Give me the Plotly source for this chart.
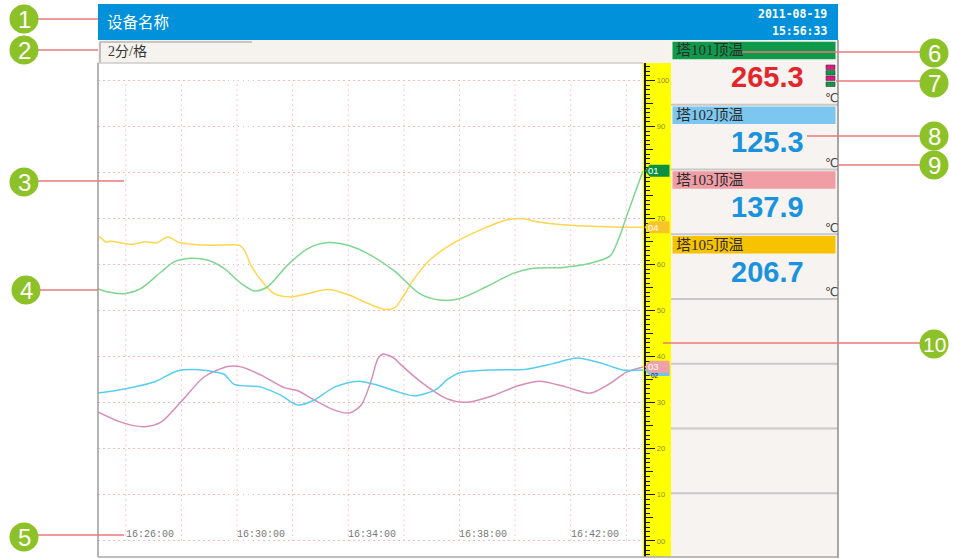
import plotly.graph_objects as go

W, H = 953, 559
DAY = "2011-08-19 "

# ---- recorder channels -------------------------------------------------
ch_tags = ["01", "02", "03", "04"]
ch_names = ["塔101顶温", "塔102顶温", "塔103顶温", "塔105顶温"]
ch_readings = [265.3, 125.3, 137.9, 206.7]
ch_unit = "℃"

# trend samples (value on the 0-100 scale)
green_t = ["16:25:00", "16:25:20", "16:25:56", "16:26:32", "16:27:16", "16:27:44", "16:28:20",
           "16:28:56", "16:29:32", "16:30:09", "16:30:37", "16:31:06", "16:31:49", "16:32:33",
           "16:33:16", "16:33:59", "16:34:42", "16:35:40", "16:36:34", "16:37:17", "16:38:00",
           "16:38:58", "16:39:56", "16:40:39", "16:41:44", "16:42:42", "16:43:25", "16:43:43",
           "16:44:04", "16:44:36"]
green_v = [54.8, 54.1, 53.7, 54.8, 58.4, 60.6, 61.4, 61.0, 59.2, 55.9, 54.3, 55.2, 59.9, 63.5,
           64.8, 64.2, 62.4, 58.6, 53.7, 52.3, 52.6, 55.2, 58.1, 59.2, 59.4, 60.3, 61.9, 65.5,
           71.5, 80.4]

blue_t = ["16:25:00", "16:26:03", "16:27:01", "16:27:51", "16:28:28", "16:29:11", "16:29:32",
          "16:29:54", "16:30:52", "16:31:35", "16:32:11", "16:32:47", "16:33:30", "16:34:21",
          "16:35:04", "16:35:40", "16:36:23", "16:37:10", "16:37:32", "16:38:01", "16:39:05",
          "16:40:25", "16:41:22", "16:42:13", "16:43:03", "16:43:54", "16:44:36"]
blue_v = [32.1, 33.1, 34.5, 36.9, 37.2, 36.7, 36.2, 34.0, 33.4, 31.6, 29.5, 30.6, 33.4, 34.7,
          33.8, 32.6, 31.5, 32.9, 34.9, 36.5, 37.1, 37.3, 38.5, 39.7, 38.7, 37.1, 37.1]

pink_t = ["16:25:00", "16:25:49", "16:26:39", "16:27:16", "16:27:59", "16:28:49", "16:29:40",
          "16:30:09", "16:30:52", "16:31:42", "16:32:11", "16:32:47", "16:33:30", "16:34:03",
          "16:34:28", "16:34:50", "16:35:04", "16:35:15", "16:35:40", "16:35:51", "16:36:41",
          "16:37:32", "16:38:15", "16:39:05", "16:40:10", "16:40:53", "16:41:51", "16:42:42",
          "16:43:25", "16:44:01", "16:44:36"]
pink_v = [28.0, 25.8, 24.8, 25.8, 30.2, 35.6, 37.9, 37.8, 36.0, 33.3, 32.6, 30.6, 28.4, 27.8,
          29.5, 35.0, 39.6, 40.6, 39.6, 38.5, 34.2, 30.9, 30.1, 31.3, 33.8, 34.7, 33.4, 32.1,
          34.2, 36.7, 37.8]

yellow_t = ["16:25:00", "16:25:04", "16:25:17", "16:25:27", "16:26:11", "16:26:43", "16:27:05",
            "16:27:31", "16:27:55", "16:28:28", "16:29:11", "16:30:06", "16:30:16", "16:30:30",
            "16:30:52", "16:31:20", "16:31:57", "16:32:32", "16:33:16", "16:33:59", "16:34:42",
            "16:35:18", "16:35:40", "16:35:58", "16:36:20", "16:36:56", "16:37:46", "16:38:44",
            "16:39:41", "16:40:17", "16:40:46", "16:41:51", "16:43:32", "16:44:36"]
yellow_v = [65.7, 66.0, 64.9, 65.1, 64.4, 65.0, 64.7, 66.0, 64.8, 64.4, 64.2, 64.2, 63.1, 59.9,
            56.6, 53.7, 53.0, 53.7, 54.6, 53.5, 51.6, 50.3, 50.6, 53.0, 56.6, 61.0, 64.6, 67.5,
            69.7, 70.0, 69.3, 68.6, 68.2, 68.1]

grid_times = ["16:26", "16:28", "16:30", "16:32", "16:34", "16:36", "16:38", "16:40", "16:42", "16:44"]
time_labels = ["16:26:00", "16:30:00", "16:34:00", "16:38:00", "16:42:00"]
scale_vals = [0, 10, 20, 30, 40, 50, 60, 70, 80, 90, 100]
scale_text = ["00", "10", "20", "30", "40", "50", "60", "70", "80", "90", "100"]
mid_vals = [5, 15, 25, 35, 45, 55, 65, 75, 85, 95]
x_window = ["16:25:00", "16:44:36"]
y_window = [-3.5, 103.8]

header_title = "设备名称"
header_date = "2011-08-19"
header_time = "15:56:33"
per_div = "2分/格"

# ---- styles -------------------------------------------------------------
line_colors = {"01": "#7FD690", "02": "#58CDF2", "03": "#D68DB7", "04": "#FFD650"}
tag_colors = {"01": "#0B8F43", "02": "#74C2EE", "03": "#F0A0A9", "04": "#F7C52A"}
tag_text = {"01": "white", "02": "#1a1a1a", "03": "white", "04": "white"}
bar_colors = ["#0E9A4A", "#7CC7F0", "#F09DA5", "#F7C300"]
reading_colors = ["#E2262B", "#1A93DE", "#1A93DE", "#1A93DE"]
GRID = "#F5B8BF"
GRID_DASH = "1.5px,3.5px"
LEAD = "#E9787B"
BADGE = "#8CC227"
SERIF_CJK = "Liberation Serif, Noto Sans CJK SC"

series = {"01": (green_t, green_v), "02": (blue_t, blue_v),
          "03": (pink_t, pink_v), "04": (yellow_t, yellow_v)}

fig = go.Figure()


def px(x):
    return x / W


def py(y):
    return 1 - y / H


def rect(x0, y0, x1, y1, fill, layer="below", line=None):
    fig.add_shape(type="rect", xref="paper", yref="paper", x0=px(x0), x1=px(x1),
                  y0=py(y1), y1=py(y0), fillcolor=fill, layer=layer,
                  line=line if line else dict(width=0))


def seg(x0, y0, x1, y1, color, width=1, layer="above"):
    fig.add_shape(type="line", xref="paper", yref="paper", x0=px(x0), x1=px(x1),
                  y0=py(y0), y1=py(y1), line=dict(color=color, width=width), layer=layer)


def text(x, y, s, size, color, family, xanchor="left", yanchor="middle"):
    fig.add_annotation(xref="paper", yref="paper", x=px(x), y=py(y), text=s, showarrow=False,
                       xanchor=xanchor, yanchor=yanchor,
                       font=dict(size=size, color=color, family=family))


# ---- trend lines ----------------------------------------------------------
for tag in ["04", "01", "03", "02"]:
    t, v = series[tag]
    fig.add_trace(go.Scatter(x=[DAY + s for s in t], y=v, mode="lines",
                             line=dict(color=line_colors[tag], width=1.5, shape="spline",
                                       smoothing=0.8),
                             hoverinfo="skip", showlegend=False))

# invisible anchors so the ruler axes are drawn
for ax in ["y2", "y3", "y4"]:
    fig.add_trace(go.Scatter(x=[DAY + x_window[0]], y=[50], yaxis=ax, mode="markers",
                             marker=dict(opacity=0), hoverinfo="skip", showlegend=False))

# ---- frame, header, panels --------------------------------------------------
rect(98, 4, 838, 40, "#0091DA")
rect(98, 40, 671, 63, "#F6F3EF")
rect(671, 40, 838, 558, "#F7F3F0")
rect(643, 63, 671, 557, "#FFFF00")
seg(100, 42, 252, 42, "#9a9a9a", 1.2)
seg(100, 42, 100, 62, "#9a9a9a", 1.2)
seg(98, 63, 643, 63, "#b4b4b4", 1)
seg(98, 63, 98, 557, "#9c9c9c", 1.5)
seg(98, 557, 838, 557, "#a8a8a8", 1.5)
seg(838, 40, 838, 558, "#8c8c8c", 1.5)
for i in range(1, 8):
    yy = 40 + i * 64.75
    seg(671, yy, 838, yy, "#C9C9C9", 2, layer="below")

text(105, 21, header_title, 15.5, "white", "Noto Sans CJK SC")
text(829, 14, "<b>%s</b>" % header_date, 11.5, "white", "DejaVu Sans Mono", xanchor="right")
text(829, 31, "<b>%s</b>" % header_time, 11.5, "white", "DejaVu Sans Mono", xanchor="right")
text(106, 52, per_div, 14, "#333333", SERIF_CJK)

# vertical grid (one division = 2 minutes)
for g in grid_times:
    fig.add_shape(type="line", xref="x", yref="y", x0=DAY + g + ":00", x1=DAY + g + ":00",
                  y0=scale_vals[0], y1=scale_vals[-1], layer="below",
                  line=dict(color=GRID, width=1, dash=GRID_DASH))

for lab in time_labels:
    fig.add_annotation(xref="x", yref="y", x=DAY + lab, y=scale_vals[0], text=lab,
                       showarrow=False, xanchor="left", yanchor="bottom", xshift=-2, yshift=-1,
                       font=dict(size=10, color="#777777", family="Liberation Mono"))

# channel panels
for i, (name, val) in enumerate(zip(ch_names, ch_readings)):
    top = 40 + i * 64.75
    rect(672.5, top + 1.8, 835.5, top + 19.2, bar_colors[i])
    text(674, top + 10.5, name, 15, "#2b2b2b", SERIF_CJK)
    text(767.5, top + 37.5, "<b>%.1f</b>" % val, 29, reading_colors[i], "Liberation Sans",
         xanchor="center")
    text(831, top + 58, ch_unit, 12, "#444444", "DejaVu Sans", xanchor="center")

# alarm lamps of channel 01
for (y0, y1, c) in [(65, 69.5, "#E0157F"), (70.5, 75, "#109848"),
                    (76, 80.5, "#E0157F"), (82, 86.5, "#109848")]:
    rect(826, y0, 835, y1, c, layer="above", line=dict(color="#3a3a3a", width=0.6))

# channel tags at the end of each trace on the ruler (02 sits beneath 03)
for tag in ["01", "04", "02", "03"]:
    v = series[tag][1][-1]
    h = 1.3
    path = (f"M {px(644.5)},{v} L {px(650)},{v + h} L {px(669.5)},{v + h} "
            f"L {px(669.5)},{v - h} L {px(650)},{v - h} Z")
    fig.add_shape(type="path", xref="paper", yref="y", path=path,
                  fillcolor=tag_colors[tag], line=dict(width=0), layer="above")
    low = tag == "02"
    fig.add_annotation(xref="paper", yref="y", x=px(660), y=v, text=tag, showarrow=False,
                       yshift=-5.5 if low else 0, borderpad=0,
                       font=dict(size=6.5 if low else 9.5, color=tag_text[tag],
                                 family="Liberation Sans"))

# numbered callouts
badges = [(24, 19, "1"), (24, 50, "2"), (24, 182, "3"), (26, 290, "4"), (24, 537, "5"),
          (934, 53, "6"), (934, 83, "7"), (934, 136, "8"), (934, 165, "9"), (934, 344, "10")]
leads = [(38, 19, 98, 19), (38, 50, 98, 50), (38, 181, 124, 181), (40, 290, 98, 290),
         (38, 535, 124, 535), (742, 52, 920, 52), (836, 81, 920, 81), (807, 136, 920, 136),
         (838, 165, 920, 165), (663, 343, 920, 343)]
for (x0, y0, x1, y1) in leads:
    seg(x0, y0, x1, y1, LEAD, 1.5)
r = 14.5
for (cx, cy, n) in badges:
    fig.add_shape(type="circle", xref="paper", yref="paper", x0=px(cx - r), x1=px(cx + r),
                  y0=py(cy + r), y1=py(cy - r), fillcolor=BADGE, line=dict(width=0),
                  layer="above")
    text(cx, cy + 0.5, n, 24 if len(n) == 1 else 21, "white", "Liberation Sans",
         xanchor="center")

# ---- axes -------------------------------------------------------------------
dom_y = [py(557), py(63)]
ruler_pos = px(644.5)
fig.update_layout(
    width=W, height=H, margin=dict(l=0, r=0, t=0, b=0),
    paper_bgcolor="white", plot_bgcolor="white", showlegend=False,
    xaxis=dict(domain=[px(98), px(643)], type="date",
               range=[DAY + x_window[0], DAY + x_window[1]],
               showgrid=False, showticklabels=False, zeroline=False, showline=False, ticks=""),
    yaxis=dict(domain=dom_y, range=y_window, tickmode="linear", tick0=0, dtick=10,
               showgrid=True, gridcolor=GRID, gridwidth=1, griddash=GRID_DASH,
               showticklabels=False, zeroline=False, showline=False, ticks=""),
    yaxis2=dict(overlaying="y", anchor="free", position=ruler_pos, side="right",
                range=y_window, tickmode="array", tickvals=scale_vals, ticktext=scale_text,
                ticks="outside", ticklen=10, tickwidth=1, tickcolor="#1a1a1a",
                showline=True, linecolor="#1a1a1a", linewidth=1.5, showgrid=False,
                zeroline=False, tickfont=dict(size=7.5, color="#8c8c3c",
                                              family="Liberation Sans")),
    yaxis3=dict(overlaying="y", anchor="free", position=ruler_pos, side="right",
                range=y_window, tickmode="array", tickvals=mid_vals, ticks="outside",
                ticklen=7, tickwidth=1, tickcolor="#1a1a1a", showticklabels=False,
                showgrid=False, zeroline=False, showline=False),
    yaxis4=dict(overlaying="y", anchor="free", position=ruler_pos, side="right",
                range=y_window, tickmode="linear", tick0=0, dtick=1, ticks="outside",
                ticklen=4, tickwidth=1, tickcolor="#1a1a1a", showticklabels=False,
                showgrid=False, zeroline=False, showline=False),
)

fig.write_html("out.html")
